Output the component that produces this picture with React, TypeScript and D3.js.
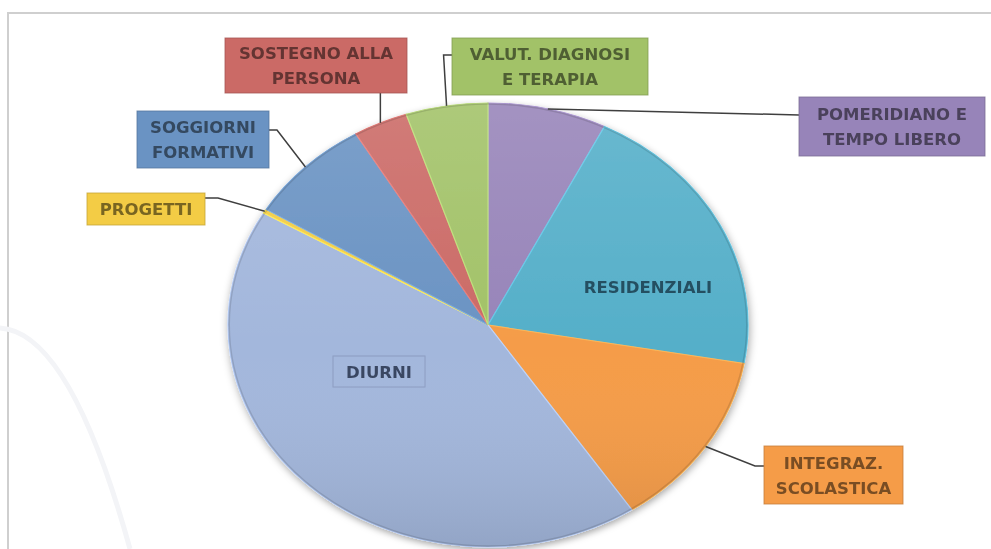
import { useEffect, useRef } from 'react';
import * as d3 from 'd3';

// slices clockwise from 12 o'clock (share of total, %)
const categories = [
  'POMERIDIANO E TEMPO LIBERO',
  'RESIDENZIALI',
  'INTEGRAZ. SCOLASTICA',
  'DIURNI',
  'PROGETTI',
  'SOGGIORNI FORMATIVI',
  'SOSTEGNO ALLA PERSONA',
  'VALUT. DIAGNOSI E TERAPIA',
];
const values = [7.4, 20.4, 12.9, 42.8, 0.3, 7.8, 3.4, 5.1];
const sliceColors = ['#9784b9', '#55afc9', '#f59c48', '#a3b7dc', '#f3cc45', '#6a93c3', '#cb6a66', '#a2c268'];

// label text lines, as shown in the boxes
const labelLines = [
  ['POMERIDIANO E', 'TEMPO LIBERO'],
  ['RESIDENZIALI'],
  ['INTEGRAZ.', 'SCOLASTICA'],
  ['DIURNI'],
  ['PROGETTI'],
  ['SOGGIORNI', 'FORMATIVI'],
  ['SOSTEGNO ALLA', 'PERSONA'],
  ['VALUT. DIAGNOSI', 'E TERAPIA'],
];

export default function App() {
  const svgRef = useRef<SVGSVGElement>(null);

  useEffect(() => {
    const width = 991;
    const height = 549;
    const svg = d3.select(svgRef.current).attr('width', width).attr('height', height);
    svg.selectAll('*').remove();

    const cx = 488;
    const cy = 325;
    const rx = 260;
    const ry = 222;

    const defs = svg.append('defs');
    const shadow = defs.append('filter').attr('id', 'pieShadow')
      .attr('x', '-10%').attr('y', '-10%').attr('width', '120%').attr('height', '120%');
    shadow.append('feDropShadow').attr('dx', 1).attr('dy', 3).attr('stdDeviation', 4)
      .attr('flood-color', '#000').attr('flood-opacity', 0.35);

    const shade = defs.append('linearGradient').attr('id', 'shade')
      .attr('x1', 0).attr('y1', 0).attr('x2', 0).attr('y2', 1);
    shade.append('stop').attr('offset', '0%').attr('stop-color', '#fff').attr('stop-opacity', 0.12);
    shade.append('stop').attr('offset', '55%').attr('stop-color', '#fff').attr('stop-opacity', 0);
    shade.append('stop').attr('offset', '100%').attr('stop-color', '#000').attr('stop-opacity', 0.1);

    // frame
    svg.append('path')
      .attr('d', `M8,${height} L8,13 L${width},13`)
      .attr('fill', 'none').attr('stroke', '#cfcfcf').attr('stroke-width', 2);

    // faint background watermark
    svg.append('path')
      .attr('d', 'M0,328 Q70,332 130,549')
      .attr('fill', 'none').attr('stroke', '#f3f4f7').attr('stroke-width', 5);

    const data = categories.map((c, i) => ({ name: c, value: values[i], color: sliceColors[i], lines: labelLines[i] }));

    const pie = d3.pie<any>().sort(null).value(d => d.value);
    const arcs = pie(data);
    const arc = d3.arc<any>().innerRadius(0).outerRadius(rx);

    const g = svg.append('g')
      .attr('transform', `translate(${cx},${cy}) scale(1,${ry / rx})`)
      .attr('filter', 'url(#pieShadow)');

    g.selectAll('path.slice')
      .data(arcs)
      .join('path')
      .attr('class', 'slice')
      .attr('d', arc)
      .attr('fill', d => d.data.color)
      .attr('stroke', d => d3.color(d.data.color)!.brighter(0.4).formatHex())
      .attr('stroke-width', 1.2);

    g.append('circle').attr('r', rx).attr('fill', 'url(#shade)').attr('pointer-events', 'none');
    g.append('circle').attr('r', rx - 1).attr('fill', 'none')
      .attr('stroke', '#000').attr('stroke-opacity', 0.12).attr('stroke-width', 2);

    // point on the pie edge at the slice's mid angle
    const edge = (d: any) => {
      const a = (d.startAngle + d.endAngle) / 2;
      return [cx + rx * Math.sin(a), cy - ry * Math.cos(a)];
    };

    // box layout for outside labels: [x, y, w, h], leader bend points
    const layout: Record<string, any> = {
      'POMERIDIANO E TEMPO LIBERO': { box: [799, 97, 186, 59], leader: (p: number[]) => [p, [799, 115]] },
      'INTEGRAZ. SCOLASTICA': { box: [764, 446, 139, 58], leader: (p: number[]) => [p, [755, 466], [764, 466]] },
      'PROGETTI': { box: [87, 193, 118, 32], leader: (p: number[]) => [p, [218, 198], [205, 198]] },
      'SOGGIORNI FORMATIVI': { box: [137, 111, 132, 57], leader: (p: number[]) => [p, [277, 130], [269, 130]] },
      'SOSTEGNO ALLA PERSONA': { box: [225, 38, 182, 55], leader: (p: number[]) => [p, [p[0], 93]] },
      'VALUT. DIAGNOSI E TERAPIA': { box: [452, 38, 196, 57], leader: (p: number[]) => [p, [p[0] - 3, 55], [452, 55]] },
      'DIURNI': { box: [333, 356, 92, 31], inside: true },
      'RESIDENZIALI': { box: [585, 272, 126, 30], inside: true, noBox: true },
    };

    const line = d3.line();
    const font = "'DejaVu Sans', sans-serif";

    arcs.forEach(d => {
      const L = layout[d.data.name];
      const [bx, by, bw, bh] = L.box;
      const base = d3.color(d.data.color)!;
      const textColor = d3.color(d.data.color)!.darker(2.3).formatHex();

      if (L.leader) {
        svg.append('path')
          .attr('d', line(L.leader(edge(d))))
          .attr('fill', 'none').attr('stroke', '#3f3f3f').attr('stroke-width', 1.5);
      }
      if (!L.noBox) {
        svg.append('rect')
          .attr('x', bx).attr('y', by).attr('width', bw).attr('height', bh)
          .attr('fill', L.inside ? 'none' : base.formatHex())
          .attr('stroke', L.inside ? '#7f8db0' : base.darker(0.6).formatHex())
          .attr('stroke-opacity', L.inside ? 0.6 : 0.8)
          .attr('stroke-width', 1);
      }
      const lines: string[] = d.data.lines;
      const lh = 25;
      const t = svg.append('text')
        .attr('text-anchor', 'middle')
        .attr('font-family', font)
        .attr('font-weight', 'bold')
        .attr('font-size', 16.5)
        .attr('fill', L.inside ? '#2f3b55' : textColor)
        .attr('opacity', 0.9);
      lines.forEach((s, i) => {
        t.append('tspan')
          .attr('x', bx + bw / 2)
          .attr('y', by + bh / 2 + (i - (lines.length - 1) / 2) * lh + 6)
          .text(s);
      });
      if (d.data.name === 'RESIDENZIALI') t.attr('fill', '#1f4556');
    });
  }, []);

  return (
    <div style={{ position: 'fixed', left: 0, top: 0, width: 991, height: 549, overflow: 'hidden', background: '#fff' }}>
      <svg ref={svgRef} style={{ display: 'block' }}></svg>
    </div>
  );
}
